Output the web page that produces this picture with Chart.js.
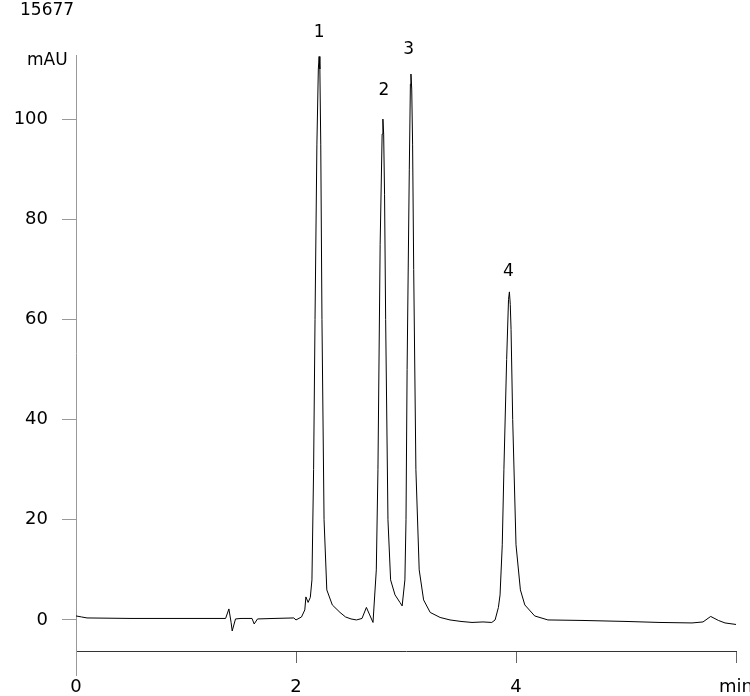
<!DOCTYPE html>
<html>
<head>
<meta charset="utf-8">
<script src="https://cdn.jsdelivr.net/npm/chart.js@4.4.1/dist/chart.umd.min.js"></script>
<style>
  html, body { margin: 0; padding: 0; background: #fff; }
  #wrap { width: 750px; height: 696px; }
</style>
</head>
<body>
<div id="wrap"><canvas id="myChart"></canvas></div>
<script>
// retention time (min) and absorbance (mAU)
const times = [
  0, 0.05, 0.1, 0.5, 1.0, 1.36, 1.39, 1.41, 1.42, 1.45, 1.5, 1.6, 1.62, 1.65, 1.8, 1.98,
  2.0, 2.05, 2.08, 2.09, 2.11, 2.13, 2.145, 2.16, 2.173, 2.19, 2.203, 2.21, 2.217, 2.225, 2.236, 2.255, 2.28,
  2.33, 2.4, 2.45, 2.5, 2.55, 2.6, 2.64, 2.67, 2.70, 2.73, 2.745, 2.765, 2.783, 2.79, 2.797, 2.805, 2.815,
  2.836, 2.86, 2.9, 2.945, 2.965, 2.99, 3.0, 3.01, 3.03, 3.04, 3.045, 3.052, 3.06, 3.07, 3.09, 3.12, 3.16,
  3.22, 3.31, 3.4, 3.5, 3.6, 3.7, 3.78, 3.81, 3.84, 3.855, 3.875, 3.89, 3.915, 3.932, 3.94, 3.948, 3.955,
  3.97, 4.0, 4.04, 4.08, 4.17, 4.29, 4.6, 5.0, 5.3, 5.6, 5.7, 5.77, 5.84, 5.9, 6.0
];
const absorbance = [
  0.8, 0.6, 0.4, 0.3, 0.3, 0.3, 2.2, -0.5, -2.2, 0.2, 0.3, 0.3, -0.8, 0.2, 0.3, 0.4,
  0.0, 0.6, 2.0, 4.6, 3.5, 4.5, 8, 30, 60, 95, 110, 112.5, 110, 95, 60, 20, 6,
  3, 1.5, 0.6, 0.2, 0.0, 0.3, 2.5, 1.0, -0.5, 10, 30, 75, 97, 100, 97, 85, 60,
  20, 8, 5, 3.5, 2.8, 8, 20, 50, 90, 107, 109, 106, 95, 70, 30, 10, 4,
  1.5, 0.5, 0.0, -0.3, -0.5, -0.4, -0.5, 0.0, 2.5, 5, 15, 30, 52, 64, 65.5, 63, 58,
  40, 15, 6, 3, 0.8, 0.0, -0.1, -0.3, -0.5, -0.6, -0.4, 0.7, -0.1, -0.6, -0.9
];
const peakNames = ["1", "2", "3", "4"];
const peakTimes = [2.21, 2.80, 3.025, 3.93];
const peakLabelValues = [117.2, 105.6, 113.8, 69.6];
const yTicks = [0, 20, 40, 60, 80, 100];
const xTicks = [0, 2, 4, 6];

const font = "DejaVu Sans";

const extras = {
  id: "extras",
  afterDraw(chart) {
    const { ctx, scales: { x, y } } = chart;
    ctx.save();
    ctx.fillStyle = "#000";
    ctx.font = "17px '" + font + "'";
    ctx.textAlign = "center";
    ctx.textBaseline = "middle";
    peakNames.forEach((n, i) => {
      ctx.fillText(n, x.getPixelForValue(peakTimes[i]), y.getPixelForValue(peakLabelValues[i]));
    });
    ctx.textAlign = "left";
    ctx.fillText("15677", 20, 11);
    ctx.fillText("mAU", 27, 61);
    // y axis continues below the x axis
    ctx.strokeStyle = "#999";
    ctx.lineWidth = 1;
    ctx.beginPath();
    ctx.moveTo(x.left + 0.5, y.bottom);
    ctx.lineTo(x.left + 0.5, 676);
    ctx.stroke();
    ctx.restore();
  }
};

new Chart(document.getElementById("myChart").getContext("2d"), {
  type: "line",
  data: {
    datasets: [{
      data: times.map((t, i) => ({ x: t, y: absorbance[i] })),
      borderColor: "#000",
      borderWidth: 1,
      pointRadius: 0,
      tension: 0,
      fill: false
    }]
  },
  options: {
    responsive: true,
    maintainAspectRatio: false,
    animation: false,
    layout: { padding: { top: 55, right: 14, left: 0, bottom: 0 } },
    plugins: { legend: { display: false }, tooltip: { enabled: false } },
    scales: {
      x: {
        type: "linear",
        min: 0,
        max: 6,
        afterFit(s) { s.height = 45; s.paddingRight = 0; s.paddingLeft = 0; },
        afterBuildTicks(s) { s.ticks = xTicks.map(v => ({ value: v })); },
        grid: { drawOnChartArea: false, drawTicks: true, tickLength: 12, color: "#666" },
        border: { display: true, color: "#333" },
        ticks: {
          color: "#000",
          padding: 14,
          maxRotation: 0,
          font: { family: font, size: 18 },
          callback: v => (v === 6 ? "min" : String(v))
        }
      },
      y: {
        min: -6.2,
        max: 112.8,
        afterFit(s) { s.width = 76; s.paddingTop = 0; s.paddingBottom = 0; },
        afterBuildTicks(s) { s.ticks = yTicks.map(v => ({ value: v })); },
        grid: { drawOnChartArea: false, drawTicks: true, tickLength: 14, color: "#999" },
        border: { display: true, color: "#999" },
        ticks: {
          color: "#000",
          padding: 14,
          font: { family: font, size: 18 }
        }
      }
    }
  },
  plugins: [extras]
});
</script>
</body>
</html>
